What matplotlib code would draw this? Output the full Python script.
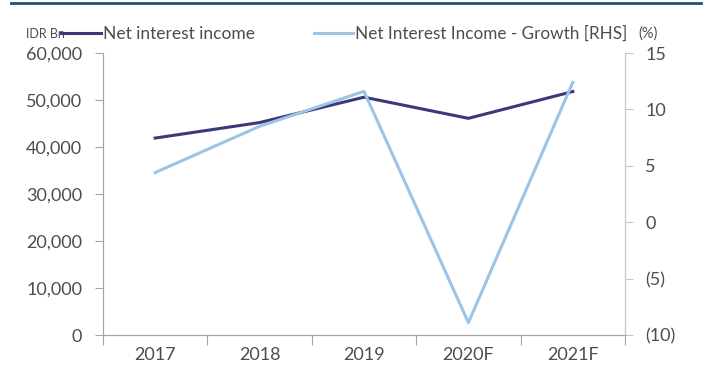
import numpy as np
import matplotlib
matplotlib.use('Agg')
import matplotlib.pyplot as plt
from matplotlib.ticker import FuncFormatter, FixedLocator

plt.rcParams['font.family'] = ['Lato', 'DejaVu Sans']

#Chart data
years = ['2017', '2018', '2019', '2020F', '2021F']
nii = [41900, 45200, 50600, 46100, 51800]
nii_growth = [4.4, 8.5, 11.6, -8.9, 12.4]

dark_col = '#3B3978'
light_col = '#9DC3E6'
txt_col = '#4D4D4D'
axis_col = '#A6A6A6'

fig = plt.figure(figsize=(7.08, 3.73), dpi=100)
ax = fig.add_axes([103/708, 1-335/373, (625-103)/708, (335-53)/373])
ax2 = ax.twinx()

x = np.arange(len(years))
l1, = ax.plot(x, nii, color=dark_col, lw=2.2, label='Net interest income')
l2, = ax2.plot(x, nii_growth, color=light_col, lw=2.2, label='Net Interest Income - Growth [RHS]')

ax.set_xlim(-0.5, len(years) - 0.5)
ax.set_ylim(0, 60000)
ax2.set_ylim(-10, 15)
ax.set_yticks(np.arange(0, 60001, 10000))
ax2.set_yticks(np.arange(-10, 16, 5))
ax.yaxis.set_major_formatter(FuncFormatter(lambda v, p: f'{int(v):,}'))
ax2.yaxis.set_major_formatter(FuncFormatter(lambda v, p: f'({abs(int(v))})' if v < 0 else f'{int(v)}'))

# category labels in the middle, ticks at the boundaries
ax.xaxis.set_major_locator(FixedLocator(np.arange(-0.5, len(years), 1.0)))
ax.xaxis.set_minor_locator(FixedLocator(x))
ax.set_xticklabels([])
ax.set_xticklabels(years, minor=True)
ax.tick_params(axis='x', which='major', direction='out', length=7, color=axis_col)
ax.tick_params(axis='x', which='minor', length=0, pad=9, labelsize=13, labelcolor=txt_col)
ax.tick_params(axis='y', direction='out', length=6, color=axis_col, labelsize=13, labelcolor=txt_col, pad=9)
ax2.tick_params(axis='y', direction='out', length=6, color='#C8C8C8', labelsize=13, labelcolor=txt_col, pad=8.5)

for a in (ax, ax2):
  a.spines['top'].set_visible(False)
  for s in ('left', 'bottom'):
    a.spines[s].set_color(axis_col)
  a.spines['right'].set_color('#C8C8C8')

#Legend and header texts
yl = 1 - 34/373
fig.text(26/708, yl, 'IDR Bn', fontsize=9, color=txt_col, va='center')
leg1 = fig.legend([l1], [l1.get_label()], loc='center left', bbox_to_anchor=(61/708, yl),
                  frameon=False, fontsize=12.5, handlelength=2.3, handletextpad=0.1,
                  labelcolor=txt_col, borderaxespad=0, borderpad=0)
leg2 = fig.legend([l2], [l2.get_label()], loc='center left', bbox_to_anchor=(314/708, yl),
                  frameon=False, fontsize=12.3, handlelength=2.3, handletextpad=0.1,
                  labelcolor=txt_col, borderaxespad=0, borderpad=0)
fig.text(638/708, yl, '(%)', fontsize=10.5, color=txt_col, va='center')

#Blue rule across the top
fig.add_artist(plt.Line2D([11/708, 701/708], [1-3/373, 1-3/373], color='#1F4E79', lw=2))

fig.savefig('out.png', dpi=100)
